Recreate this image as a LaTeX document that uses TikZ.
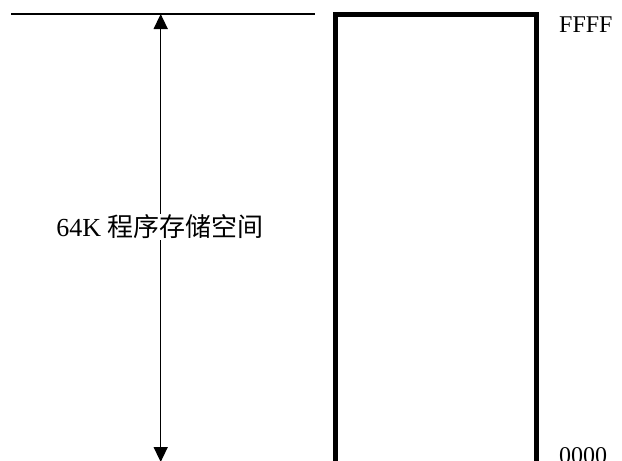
\documentclass[tikz,border=0pt]{standalone}
\usepackage{fontspec}
\setmainfont{Liberation Serif}
\newfontfamily\cjk{Noto Sans CJK SC}
\usetikzlibrary{arrows.meta}
\tikzset{
  thinline/.style={line width=1.6pt, black},
  memwall/.style={line width=5pt, black, line join=miter},
  dimarrow/.style={line width=1.5pt, black, {Triangle[length=15pt,width=14pt]}-{Triangle[length=15pt,width=14pt]}},
  addr/.style={font=\fontsize{24}{24}\selectfont, inner sep=0pt, anchor=base west},
  sizelabel/.style={font=\fontsize{26}{26}\selectfont, fill=white, inner sep=1pt}
}
\begin{document}
\begin{tikzpicture}[x=1pt,y=-1pt]
\useasboundingbox (0,0) rectangle (622,461);
\clip (0,0) rectangle (622,461);
\fill[white] (0,0) rectangle (622,461);
% top reference line
\coordinate (lineL) at (11,14);
\coordinate (lineR) at (315,14);
\draw[thinline] (lineL) -- (lineR);
% memory block (open at bottom)
\draw[memwall] (335.5,480) -- (335.5,14.5) -- (536,14.5) -- (536,480);
% dimension arrow
\coordinate (arrTop) at (160.7,14);
\coordinate (arrBot) at (160.7,462);
\draw[dimarrow] (arrTop) -- (arrBot);
\node[sizelabel] (size) at (160,227) {64K {\cjk 程序存储空间}};
% addresses
\node[addr] (ffff) at (559,32) {FFFF};
\node[addr] (zero) at (559,463) {0000};
\end{tikzpicture}
\end{document}
